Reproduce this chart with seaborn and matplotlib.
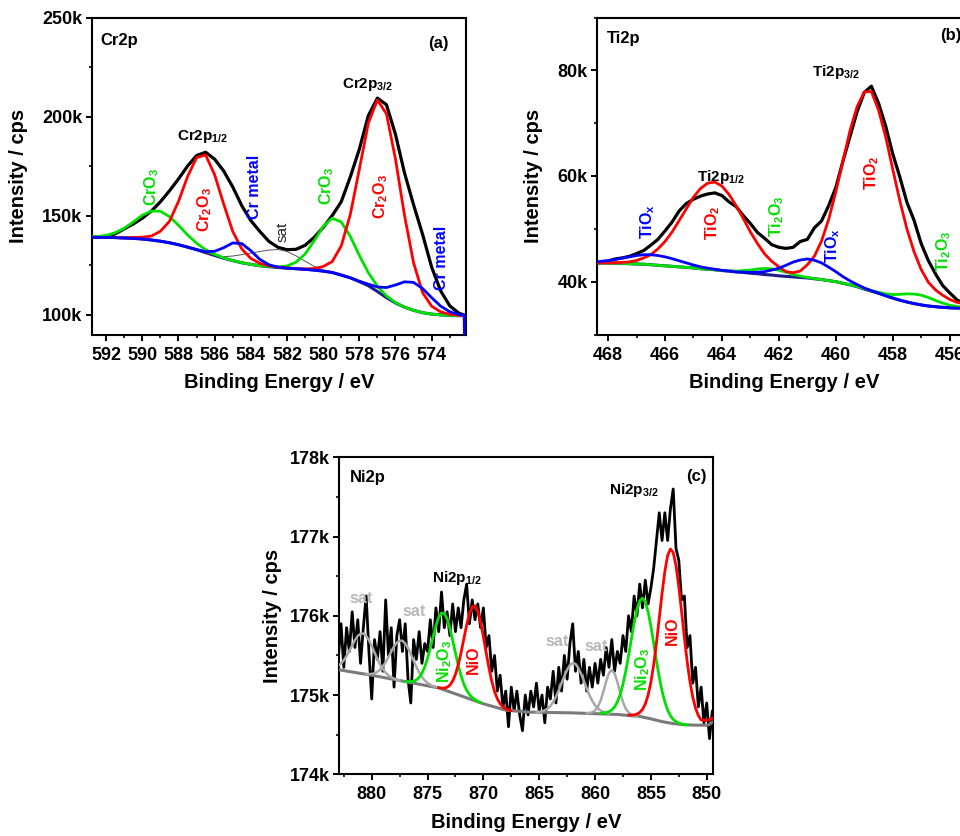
import matplotlib
matplotlib.use("Agg")
import matplotlib.pyplot as plt
import seaborn as sns
from matplotlib.ticker import MultipleLocator, FuncFormatter

# ---------------- Panel (a) Cr2p  (intensity in k cps) ----------------
cr_x = [593.0, 592.5, 592.0, 591.5, 591.0, 590.5, 590.0, 589.5, 589.0, 588.5, 588.0,
        587.5, 587.0, 586.5, 586.0, 585.5, 585.0, 584.5, 584.0, 583.5, 583.0, 582.5,
        582.0, 581.5, 581.0, 580.5, 580.0, 579.5, 579.0, 578.5, 578.0, 577.5, 577.0,
        576.5, 576.0, 575.5, 575.0, 574.5, 574.0, 573.5, 573.0, 572.5, 572.2]
cr_raw = [139.0, 139.2, 139.6, 140.8, 143.3, 145.8, 148.7, 152.3, 157.0, 162.5, 168.5,
          175.0, 180.3, 182.0, 178.5, 172.5, 164.5, 155.0, 147.5, 142.0, 137.0, 134.0,
          132.8, 133.0, 135.0, 139.0, 144.0, 150.0, 157.0, 169.5, 183.5, 200.5, 209.3,
          206.0, 191.0, 171.5, 155.5, 140.5, 124.0, 112.0, 104.5, 100.8, 99.8]
cr_bg = [139.0, 139.0, 139.0, 138.9, 138.7, 138.5, 138.2, 137.7, 137.1, 136.3, 135.3,
         134.1, 132.8, 131.3, 129.9, 128.5, 127.3, 126.2, 125.4, 124.7, 124.2, 123.8,
         123.5, 123.2, 122.9, 122.5, 122.0, 121.3, 120.0, 118.6, 116.7, 114.6, 111.7,
         108.6, 105.9, 103.8, 102.2, 101.0, 100.3, 99.9, 99.6, 99.5, 99.5]
cr_cr2o3 = [139.0, 139.0, 139.0, 138.9, 138.8, 139.0, 139.1, 139.7, 142.1, 147.1, 157.2,
            169.7, 179.3, 180.6, 170.6, 155.8, 142.0, 133.2, 128.4, 125.9, 124.7, 124.0,
            123.6, 123.3, 123.1, 123.3, 124.3, 126.8, 134.7, 150.5, 173.4, 196.7, 208.4,
            201.4, 178.5, 150.1, 126.2, 111.1, 104.3, 101.4, 100.2, 99.7, 99.5]
cr_cro3 = [139.1, 139.4, 140.0, 141.4, 143.6, 146.8, 150.2, 152.3, 152.2, 149.5, 145.1,
           140.3, 136.1, 132.8, 130.5, 128.7, 127.3, 126.2, 125.4, 124.7, 124.3, 124.1,
           124.6, 126.5, 130.6, 137.2, 144.5, 148.7, 146.8, 139.6, 129.9, 121.2, 114.4,
           109.5, 106.1, 103.8, 102.2, 101.0, 100.3, 99.9, 99.6, 99.5, 99.5]
cr_metal_x = cr_x + [572.18]
cr_metal = [139.0, 139.0, 139.0, 138.9, 138.7, 138.5, 138.2, 137.7, 137.1, 136.3, 135.3,
            134.1, 132.9, 131.8, 132.0, 133.8, 136.2, 135.9, 132.3, 127.9, 125.2, 124.0,
            123.5, 123.2, 122.9, 122.5, 122.0, 121.3, 120.0, 118.6, 116.9, 115.4, 114.0,
            113.7, 115.0, 116.6, 116.3, 113.2, 108.6, 104.3, 101.5, 100.1, 99.8, 80.0]
cr_sat_x = [586.5, 586.0, 585.5, 585.0, 584.5, 584.0, 583.5, 583.0, 582.5, 582.0, 581.5,
            581.0, 580.5, 580.0, 579.5]
cr_sat = [131.3, 129.9, 129.3, 129.6, 130.3, 131.1, 131.9, 132.6, 132.9, 131.9, 129.7,
          127.0, 124.4, 122.6, 121.3]

# ---------------- Panel (b) Ti2p ----------------
ti_x = [468.5, 468.25, 468.0, 467.75, 467.5, 467.25, 467.0, 466.75, 466.5, 466.25, 466.0,
        465.75, 465.5, 465.25, 465.0, 464.75, 464.5, 464.25, 464.0, 463.75, 463.5, 463.25,
        463.0, 462.75, 462.5, 462.25, 462.0, 461.75, 461.5, 461.25, 461.0, 460.75, 460.5,
        460.25, 460.0, 459.75, 459.5, 459.25, 459.0, 458.75, 458.5, 458.25, 458.0, 457.75,
        457.5, 457.25, 457.0, 456.75, 456.5, 456.25, 456.0, 455.75, 455.5, 455.25]
ti_raw = [43.5, 43.6, 43.9, 44.3, 44.5, 44.8, 45.3, 45.9, 46.9, 48.0,
          49.6, 51.3, 53.4, 54.8, 55.6, 56.2, 56.6, 56.8, 56.3, 55.1,
          54.2, 52.5, 51.0, 49.3, 48.2, 47.0, 46.5, 46.3, 46.5, 47.6,
          48.0, 50.2, 51.5, 54.4, 57.8, 62.8, 67.5, 72.2, 75.8, 77.0,
          73.8, 69.5, 64.2, 59.8, 55.0, 51.6, 47.2, 44.0, 41.5, 39.3,
          37.9, 36.6, 35.8, 35.4]
ti_bg = [43.55, 43.55, 43.5, 43.5, 43.45, 43.4, 43.35, 43.3, 43.2, 43.1,
         43.0, 42.9, 42.8, 42.7, 42.6, 42.45, 42.35, 42.25, 42.1, 42.0,
         41.85, 41.75, 41.6, 41.5, 41.35, 41.25, 41.1, 41.0, 40.9, 40.8,
         40.7, 40.55, 40.4, 40.2, 40.0, 39.7, 39.4, 39.05, 38.6, 38.2,
         37.8, 37.35, 36.9, 36.5, 36.15, 35.85, 35.6, 35.4, 35.25, 35.15,
         35.05, 35.0, 35.0, 35.0]
ti_tio2 = [43.55, 43.55, 43.55, 43.6, 43.65, 43.75, 44.0, 44.5, 45.1, 46.2,
           47.6, 49.4, 51.6, 53.8, 56.0, 57.65, 58.65, 58.85, 58.1, 56.5,
           54.35, 51.95, 49.4, 47.2, 45.25, 43.85, 42.8, 41.9, 41.7, 42.0,
           43.2, 44.85, 47.7, 51.8, 57.0, 62.8, 68.6, 73.15, 75.9, 76.0,
           72.5, 67.45, 61.3, 55.3, 49.95, 45.65, 42.3, 39.9, 38.45, 37.45,
           36.65, 36.1, 35.8, 35.6]
ti_tiox = [43.7, 43.85, 44.0, 44.2, 44.45, 44.7, 44.95, 45.1, 45.1, 44.95,
           44.7, 44.35, 43.95, 43.55, 43.15, 42.8, 42.55, 42.35, 42.15, 42.0,
           41.85, 41.8, 41.75, 41.8, 41.9, 42.2, 42.55, 43.1, 43.7, 44.1,
           44.3, 44.05, 43.55, 42.75, 41.9, 40.95, 40.15, 39.45, 38.8, 38.3,
           37.85, 37.35, 36.9, 36.5, 36.15, 35.85, 35.6, 35.4, 35.25, 35.15,
           35.05, 35.0, 35.0, 35.0]
ti_ti2o3 = [43.55, 43.55, 43.5, 43.5, 43.45, 43.4, 43.35, 43.3, 43.2, 43.1,
            43.0, 42.9, 42.8, 42.7, 42.6, 42.45, 42.35, 42.25, 42.1, 42.05,
            42.0, 42.1, 42.2, 42.4, 42.5, 42.45, 42.15, 41.8, 41.4, 41.05,
            40.8, 40.6, 40.4, 40.2, 40.0, 39.7, 39.4, 39.1, 38.7, 38.3,
            38.0, 37.7, 37.55, 37.6, 37.7, 37.65, 37.45, 37.0, 36.45, 35.95,
            35.55, 35.3, 35.15, 35.05]

# ---------------- Panel (c) Ni2p ----------------
ni_x = [883.0, 882.75, 882.5, 882.25, 882.0, 881.75, 881.5, 881.25, 881.0, 880.75,
        880.5, 880.25, 880.0, 879.75, 879.5, 879.25, 879.0, 878.75, 878.5, 878.25,
        878.0, 877.75, 877.5, 877.25, 877.0, 876.75, 876.5, 876.25, 876.0, 875.75,
        875.5, 875.25, 875.0, 874.75, 874.5, 874.25, 874.0, 873.75, 873.5, 873.25,
        873.0, 872.75, 872.5, 872.25, 872.0, 871.75, 871.5, 871.25, 871.0, 870.75,
        870.5, 870.25, 870.0, 869.75, 869.5, 869.25, 869.0, 868.75, 868.5, 868.25,
        868.0, 867.75, 867.5, 867.25, 867.0, 866.75, 866.5, 866.25, 866.0, 865.75,
        865.5, 865.25, 865.0, 864.75, 864.5, 864.25, 864.0, 863.75, 863.5, 863.25,
        863.0, 862.75, 862.5, 862.25, 862.0, 861.75, 861.5, 861.25, 861.0, 860.75,
        860.5, 860.25, 860.0, 859.75, 859.5, 859.25, 859.0, 858.75, 858.5, 858.25,
        858.0, 857.75, 857.5, 857.25, 857.0, 856.75, 856.5, 856.25, 856.0, 855.75,
        855.5, 855.25, 855.0, 854.75, 854.5, 854.25, 854.0, 853.75, 853.5, 853.25,
        853.0, 852.75, 852.5, 852.25, 852.0, 851.75, 851.5, 851.25, 851.0, 850.75,
        850.5, 850.25, 850.0, 849.75, 849.5]
ni_raw = [175.45, 175.90, 175.35, 175.85, 175.55, 176.05, 175.60, 175.95, 175.40, 175.85,
          176.25, 175.55, 174.95, 175.70, 175.45, 175.80, 175.30, 176.20, 175.50, 175.85,
          175.10, 175.75, 175.95, 175.55, 175.90, 175.20, 174.90, 175.70, 175.45, 175.80,
          175.40, 175.65, 175.55, 175.95, 175.60, 176.10, 175.80, 176.30, 175.85, 176.05,
          175.75, 176.15, 175.80, 176.10, 175.85, 176.20, 176.40, 175.90, 176.20, 175.95,
          176.15, 175.85, 176.10, 175.60, 175.75, 175.30, 175.50, 175.05, 175.25, 174.85,
          175.05, 174.60, 175.10, 174.80, 175.05, 174.75, 174.55, 175.00, 174.75, 175.05,
          174.85, 175.15, 174.80, 175.00, 174.65, 175.10, 174.95, 175.30, 174.90, 175.35,
          175.05, 175.50, 175.20, 175.65, 175.90, 175.30, 175.55, 175.15, 175.45, 175.05,
          175.35, 175.10, 175.40, 175.15, 175.45, 175.25, 175.60, 175.35, 175.70, 175.30,
          175.55, 175.40, 175.75, 175.55, 176.00, 175.80, 176.25, 176.00, 176.40, 176.10,
          176.45, 176.15, 176.35, 176.60, 176.95, 177.30, 176.95, 177.30, 176.95, 177.35,
          177.60, 176.85, 176.70, 176.20, 176.25, 175.60, 175.75, 175.15, 175.35, 174.85,
          175.10, 174.65, 174.90, 174.45, 174.80]
ni_bg_x = [883.0, 880.0, 877.0, 874.0, 872.0, 870.0, 868.0, 866.0, 862.0, 858.0, 856.0,
           855.0, 854.0, 853.0, 852.0, 851.0, 850.0, 849.75, 849.5]
ni_bg = [175.32, 175.25, 175.17, 175.09, 174.99, 174.89, 174.81, 174.785, 174.775, 174.755,
         174.73, 174.70, 174.665, 174.64, 174.625, 174.62, 174.62, 174.63, 174.66]
sat1_x = [883.0, 882.75, 882.5, 882.25, 882.0, 881.75, 881.5, 881.25, 881.0, 880.75, 880.5,
          880.25, 880.0, 879.75, 879.5, 879.25, 879.0, 878.75, 878.5, 878.25, 878.0, 877.75, 877.5]
sat1 = [175.372, 175.399, 175.439, 175.494, 175.558, 175.627, 175.693, 175.746, 175.775,
        175.777, 175.747, 175.692, 175.619, 175.537, 175.457, 175.386, 175.326, 175.282,
        175.248, 175.224, 175.208, 175.195, 175.183]
sat2_x = [880.5, 880.25, 880.0, 879.75, 879.5, 879.25, 879.0, 878.75, 878.5, 878.25, 878.0,
          877.75, 877.5, 877.25, 877.0, 876.75, 876.5, 876.25, 876.0, 875.75, 875.5, 875.25,
          875.0, 874.75, 874.5, 874.25]
sat2 = [175.266, 175.265, 175.267, 175.275, 175.292, 175.320, 175.361, 175.415, 175.480,
        175.548, 175.613, 175.662, 175.687, 175.685, 175.651, 175.592, 175.517, 175.435,
        175.355, 175.286, 175.228, 175.184, 175.153, 175.130, 175.113, 175.102]
ni2o3_a_x = [877.0, 876.75, 876.5, 876.25, 876.0, 875.75, 875.5, 875.25, 875.0, 874.75,
             874.5, 874.25, 874.0, 873.75, 873.5, 873.25, 873.0, 872.75, 872.5, 872.25,
             872.0, 871.75, 871.5, 871.25, 871.0, 870.75, 870.5, 870.25]
ni2o3_a = [175.172, 175.168, 175.169, 175.174, 175.190, 175.223, 175.276, 175.356, 175.464,
           175.595, 175.737, 175.874, 175.982, 176.036, 176.030, 175.963, 175.843, 175.692,
           175.529, 175.376, 175.244, 175.139, 175.061, 175.007, 174.968, 174.942, 174.921,
           174.906]
nio_a_x = [874.0, 873.75, 873.5, 873.25, 873.0, 872.75, 872.5, 872.25, 872.0, 871.75, 871.5,
           871.25, 871.0, 870.75, 870.5, 870.25, 870.0, 869.75, 869.5, 869.25, 869.0, 868.75,
           868.5, 868.25, 868.0, 867.75, 867.5]
nio_a = [175.094, 175.088, 175.087, 175.098, 175.125, 175.178, 175.261, 175.382, 175.535,
         175.710, 175.883, 176.027, 176.114, 176.126, 176.057, 175.920, 175.735, 175.534,
         175.341, 175.175, 175.044, 174.953, 174.891, 174.852, 174.826, 174.812, 174.803]
sat3_x = [865.25, 865.0, 864.75, 864.5, 864.25, 864.0, 863.75, 863.5, 863.25, 863.0, 862.75,
          862.5, 862.25, 862.0, 861.75, 861.5, 861.25, 861.0, 860.75, 860.5, 860.25, 860.0,
          859.75, 859.5, 859.25, 859.0, 858.75]
sat3 = [174.783, 174.787, 174.794, 174.808, 174.829, 174.863, 174.912, 174.978, 175.059,
        175.151, 175.238, 175.320, 175.378, 175.404, 175.393, 175.341, 175.268, 175.178,
        175.085, 174.999, 174.927, 174.871, 174.831, 174.805, 174.789, 174.775, 174.765]
sat4_x = [860.75, 860.5, 860.25, 860.0, 859.75, 859.5, 859.25, 859.0, 858.75, 858.5, 858.25,
          858.0, 857.75, 857.5, 857.25, 857.0, 856.75, 856.5, 856.25]
sat4 = [174.771, 174.774, 174.783, 174.805, 174.850, 174.930, 175.045, 175.174, 175.278,
        175.317, 175.272, 175.165, 175.030, 174.911, 174.828, 174.780, 174.755, 174.739, 174.731]
ni2o3_b_x = [859.5, 859.25, 859.0, 858.75, 858.5, 858.25, 858.0, 857.75, 857.5, 857.25,
             857.0, 856.75, 856.5, 856.25, 856.0, 855.75, 855.5, 855.25, 855.0, 854.75,
             854.5, 854.25, 854.0, 853.75, 853.5, 853.25, 853.0, 852.75, 852.5, 852.25,
             852.0, 851.75]
ni2o3_b = [174.770, 174.773, 174.779, 174.791, 174.812, 174.851, 174.914, 175.006, 175.136,
           175.301, 175.495, 175.705, 175.907, 176.077, 176.189, 176.223, 176.174, 176.051,
           175.869, 175.655, 175.433, 175.227, 175.051, 174.913, 174.811, 174.740, 174.692,
           174.664, 174.646, 174.635, 174.628, 174.624]
nio_b_x = [857.0, 856.75, 856.5, 856.25, 856.0, 855.75, 855.5, 855.25, 855.0, 854.75, 854.5,
           854.25, 854.0, 853.75, 853.5, 853.25, 853.0, 852.75, 852.5, 852.25, 852.0, 851.75,
           851.5, 851.25, 851.0, 850.75, 850.5, 850.25, 850.0, 849.75, 849.5]
nio_b = [174.747, 174.747, 174.750, 174.759, 174.780, 174.819, 174.887, 174.999, 175.162,
         175.383, 175.658, 175.968, 176.282, 176.561, 176.759, 176.843, 176.798, 176.631,
         176.370, 176.054, 175.725, 175.423, 175.169, 174.974, 174.834, 174.742, 174.686,
         174.68, 174.68, 174.69, 174.71]

# ---------------- styling ----------------
sns.set_style("ticks")
plt.rcParams["font.family"] = ["Liberation Sans", "DejaVu Sans"]
plt.rcParams["font.weight"] = "bold"
plt.rcParams["axes.labelweight"] = "bold"
plt.rcParams["text.color"] = "black"
plt.rcParams["axes.labelcolor"] = "black"
plt.rcParams["xtick.color"] = "black"
plt.rcParams["ytick.color"] = "black"
plt.rcParams["mathtext.fontset"] = "custom"
plt.rcParams["mathtext.rm"] = "Liberation Sans:bold"
plt.rcParams["mathtext.bf"] = "Liberation Sans:bold"
plt.rcParams["mathtext.it"] = "Liberation Sans:bold"
plt.rcParams["mathtext.default"] = "bf"

RED = "#ff0000"
GREEN = "#00e000"
BLUE = "#0000ff"
NAVY = "#1c1c8c"
GRAY = "#a8a8a8"
SATTXT = "#b8b8b8"

fig = plt.figure(figsize=(9.6, 8.36), dpi=100)
W, H = 374.3 / 960, 317.0 / 836
ax_a = fig.add_axes([91.7 / 960, (836 - 334.5) / 836, W, H])
ax_b = fig.add_axes([596.7 / 960, (836 - 334.5) / 836, W, H])
ax_c = fig.add_axes([339.0 / 960, (836 - 774.3) / 836, W, H])


def line(ax, x, y, color, lw, z=2):
    sns.lineplot(x=x, y=y, ax=ax, color=color, linewidth=lw, estimator=None,
                 sort=False, errorbar=None, legend=False, zorder=z)


def style(ax, xlim, ylim, xmaj, xmin, ymaj, ymin, ylab_x):
    ax.set_xlim(*xlim)
    ax.set_ylim(*ylim)
    ax.xaxis.set_major_locator(MultipleLocator(xmaj))
    ax.xaxis.set_minor_locator(MultipleLocator(xmin))
    ax.yaxis.set_major_locator(MultipleLocator(ymaj))
    ax.yaxis.set_minor_locator(MultipleLocator(ymin))
    ax.yaxis.set_major_formatter(FuncFormatter(lambda v, p: f"{v:g}k"))
    ax.xaxis.set_major_formatter(FuncFormatter(lambda v, p: f"{v:g}"))
    ax.tick_params(which="major", direction="out", length=4.2, width=1.4,
                   labelsize=13, color="black", labelcolor="black")
    ax.tick_params(which="minor", direction="out", length=2.4, width=1.2, color="black")
    ax.tick_params(axis="x", which="major", pad=4.5)
    ax.tick_params(axis="y", which="major", pad=2.5)
    for s in ax.spines.values():
        s.set_visible(True)
        s.set_linewidth(1.5)
        s.set_color("black")
    ax.set_xlabel("Binding Energy / eV", fontsize=14.5, fontweight="bold", color="black")
    ax.set_ylabel("Intensity / cps", fontsize=14.5, fontweight="bold", color="black")
    ax.xaxis.set_label_coords(0.5, -0.122)
    ax.yaxis.set_label_coords(ylab_x, 0.5)
    ax.grid(False)


# ---- (a) ----
line(ax_a, cr_x, cr_raw, "black", 2.3, 2)
line(ax_a, cr_x, cr_bg, NAVY, 2.2, 3)
line(ax_a, cr_sat_x, cr_sat, "#555555", 0.7, 3)
line(ax_a, cr_x, cr_cro3, GREEN, 2.0, 4)
line(ax_a, cr_x, cr_cr2o3, RED, 2.0, 5)
line(ax_a, cr_metal_x, cr_metal, BLUE, 2.0, 6)
style(ax_a, (592.8, 572.1), (90, 250), 2, 1, 50, 25, -0.169)
ax_a.text(0.022, 0.929, "Cr2p", transform=ax_a.transAxes, fontsize=12, ha="left", va="center")
ax_a.text(0.925, 0.918, "(a)", transform=ax_a.transAxes, fontsize=12, ha="center", va="center")
ax_a.text(577.52, 216.0, r"Cr2p$_{3/2}$", fontsize=11, ha="center", va="center")
ax_a.text(586.64, 189.8, r"Cr2p$_{1/2}$", fontsize=11, ha="center", va="center")
rot = dict(rotation=90, ha="center", va="center", fontsize=11.5)
ax_a.text(589.46, 164.5, r"CrO$_3$", color=GREEN, **rot)
ax_a.text(586.58, 152.9, r"Cr$_2$O$_3$", color=RED, **rot)
ax_a.text(583.82, 164.5, "Cr metal", color=BLUE, **rot)
ax_a.text(582.22, 141.8, "sat", color="#222222", fontweight="normal", rotation=90,
          ha="center", va="center", fontsize=11)
ax_a.text(579.79, 165.0, r"CrO$_3$", color=GREEN, **rot)
ax_a.text(576.8, 159.5, r"Cr$_2$O$_3$", color=RED, **rot)
ax_a.text(573.48, 128.7, "Cr metal", color=BLUE, **rot)

# ---- (b) ----
line(ax_b, ti_x, ti_raw, "black", 2.3, 2)
line(ax_b, ti_x, ti_bg, NAVY, 2.2, 3)
line(ax_b, ti_x, ti_ti2o3, GREEN, 2.0, 4)
line(ax_b, ti_x, ti_tio2, RED, 2.0, 5)
line(ax_b, ti_x, ti_tiox, BLUE, 2.0, 6)
style(ax_b, (468.4, 455.25), (30, 90), 2, 1, 20, 10, -0.143)
ax_b.text(0.0275, 0.935, "Ti2p", transform=ax_b.transAxes, fontsize=12, ha="left", va="center")
ax_b.text(0.9466, 0.942, "(b)", transform=ax_b.transAxes, fontsize=12, ha="center", va="center")
ax_b.text(460.0, 79.6, r"Ti2p$_{3/2}$", fontsize=11, ha="center", va="center")
ax_b.text(464.02, 59.9, r"Ti2p$_{1/2}$", fontsize=11, ha="center", va="center")
ax_b.text(466.61, 51.37, r"TiO$_x$", color=BLUE, **rot)
ax_b.text(464.33, 51.18, r"TiO$_2$", color=RED, **rot)
ax_b.text(462.08, 52.32, r"Ti$_2$O$_3$", color=GREEN, **rot)
ax_b.text(460.11, 46.82, r"TiO$_x$", color=BLUE, **rot)
ax_b.text(458.74, 60.66, r"TiO$_2$", color=RED, **rot)
ax_b.text(456.21, 45.69, r"Ti$_2$O$_3$", color=GREEN, **rot)

# ---- (c) ----
line(ax_c, ni_x, ni_raw, "black", 2.0, 2)
line(ax_c, ni_bg_x, ni_bg, "#7a7a7a", 2.2, 3)
for xs, ys in [(sat1_x, sat1), (sat2_x, sat2), (sat3_x, sat3), (sat4_x, sat4)]:
    line(ax_c, xs, ys, GRAY, 1.8, 4)
line(ax_c, ni2o3_a_x, ni2o3_a, GREEN, 2.0, 5)
line(ax_c, nio_a_x, nio_a, RED, 2.0, 6)
line(ax_c, ni2o3_b_x, ni2o3_b, GREEN, 2.0, 5)
line(ax_c, nio_b_x, nio_b, RED, 2.0, 6)
style(ax_c, (882.93, 849.41), (174, 178), 5, 2.5, 1, 0.5, -0.153)
ax_c.text(0.029, 0.935, "Ni2p", transform=ax_c.transAxes, fontsize=12, ha="left", va="center")
ax_c.text(0.956, 0.938, "(c)", transform=ax_c.transAxes, fontsize=12, ha="center", va="center")
ax_c.text(856.51, 177.59, r"Ni2p$_{3/2}$", fontsize=11, ha="center", va="center")
ax_c.text(872.36, 176.48, r"Ni2p$_{1/2}$", fontsize=11, ha="center", va="center")
for sx, sy in [(880.96, 176.22), (876.21, 176.06), (863.41, 175.67), (859.92, 175.61)]:
    ax_c.text(sx, sy, "sat", color=SATTXT, fontsize=11.5, ha="center", va="center")
ax_c.text(873.44, 175.42, r"Ni$_2$O$_3$", color=GREEN, **rot)
ax_c.text(870.93, 175.44, "NiO", color=RED, **rot)
ax_c.text(855.7, 175.32, r"Ni$_2$O$_3$", color=GREEN, **rot)
ax_c.text(853.1, 175.81, "NiO", color=RED, **rot)

fig.savefig("out.png", dpi=100)
